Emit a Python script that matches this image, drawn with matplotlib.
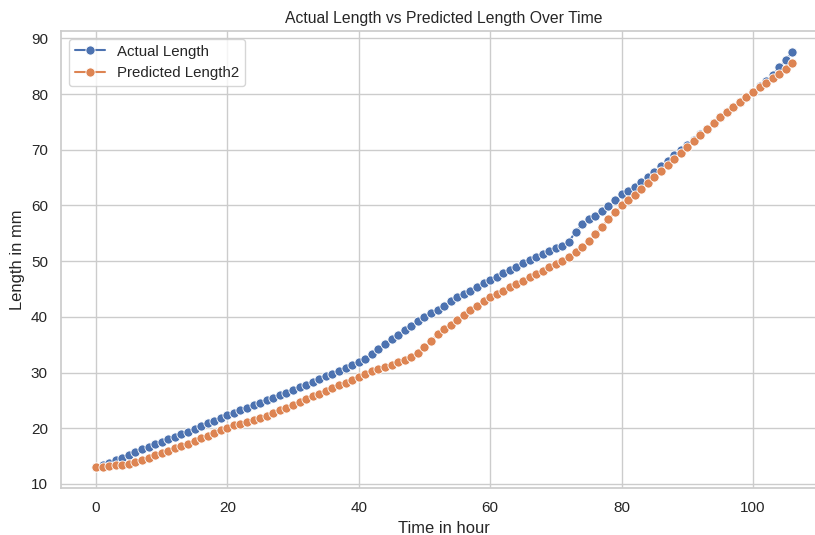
"""Actual vs predicted length over time - seaborn whitegrid line plot."""

import matplotlib
matplotlib.use('Agg')
import matplotlib.pyplot as plt
import seaborn as sns

#########################################################################################

hours = list(range(107))

actual_length = [
    13.0, 13.4, 13.8, 14.3, 14.7, 15.2, 15.7, 16.2, 16.6, 17.1,
    17.6, 18.1, 18.5, 19.0, 19.4, 19.9, 20.4, 20.9, 21.3, 21.8,
    22.3, 22.8, 23.2, 23.7, 24.1, 24.6, 25.0, 25.5, 26.0, 26.4,
    26.9, 27.4, 27.8, 28.3, 28.8, 29.3, 29.8, 30.3, 30.8, 31.3,
    31.8, 32.5, 33.3, 34.2, 35.1, 36.0, 36.8, 37.6, 38.4, 39.2,
    39.9, 40.6, 41.3, 42.0, 42.8, 43.5, 44.1, 44.7, 45.4, 46.0,
    46.6, 47.2, 47.8, 48.4, 49.0, 49.6, 50.2, 50.8, 51.3, 51.8,
    52.3, 52.8, 53.5, 55.3, 56.6, 57.5, 58.1, 59.0, 59.9, 60.9,
    62.0, 62.6, 63.4, 64.2, 65.1, 66.1, 67.0, 68.0, 69.0, 69.9,
    70.8, 71.8, 72.8, 73.8, 74.8, 75.8, 76.8, 77.7, 78.6, 79.5,
    80.4, 81.4, 82.4, 83.5, 84.8, 86.2, 87.6,
]

predicted_length = [
    13.0, 13.1, 13.2, 13.3, 13.4, 13.6, 13.9, 14.3, 14.7, 15.1,
    15.5, 15.9, 16.4, 16.8, 17.2, 17.7, 18.2, 18.6, 19.1, 19.6,
    20.1, 20.5, 20.8, 21.1, 21.4, 21.8, 22.2, 22.7, 23.2, 23.7,
    24.2, 24.7, 25.2, 25.7, 26.2, 26.7, 27.2, 27.7, 28.2, 28.7,
    29.2, 29.7, 30.2, 30.6, 31.0, 31.4, 31.8, 32.2, 32.7, 33.5,
    34.5, 35.7, 36.9, 37.8, 38.6, 39.4, 40.3, 41.2, 42.0, 42.8,
    43.5, 44.1, 44.7, 45.3, 45.9, 46.5, 47.1, 47.7, 48.3, 48.9,
    49.5, 50.1, 50.8, 51.6, 52.6, 53.7, 54.9, 56.2, 57.5, 58.8,
    60.0, 61.0, 61.9, 62.9, 64.0, 65.1, 66.2, 67.3, 68.4, 69.4,
    70.5, 71.6, 72.7, 73.7, 74.8, 75.8, 76.8, 77.7, 78.6, 79.5,
    80.4, 81.2, 82.0, 82.9, 83.7, 84.6, 85.6,
]

#########################################################################################

sns.set_theme(style='whitegrid')
plt.rcParams['font.family'] = ['Liberation Sans', 'DejaVu Sans']

fig = plt.figure(figsize=(8.15, 5.35), dpi=100)
# the reference is cropped on the right, so the axes run past the figure edge
ax = fig.add_axes([0.075, 0.088, 0.94, 0.854])

line_kw = dict(marker='o', markersize=6.6, markeredgecolor='white',
               markeredgewidth=0.6, linewidth=1.5)
ax.plot(hours, actual_length, color='#4C72B0', label='Actual Length', **line_kw)
ax.plot(hours, predicted_length, color='#DD8452', label='Predicted Length2', **line_kw)

ax.set_title('Actual Length vs Predicted Length Over Time', fontsize=11.3)
ax.set_xlabel('Time in hour', fontsize=11.9)
ax.set_ylabel('Length in mm', fontsize=11.9)
ax.tick_params(labelsize=11)
ax.legend(loc='upper left', fontsize=10.8)

fig.savefig('out.png', dpi=100)
